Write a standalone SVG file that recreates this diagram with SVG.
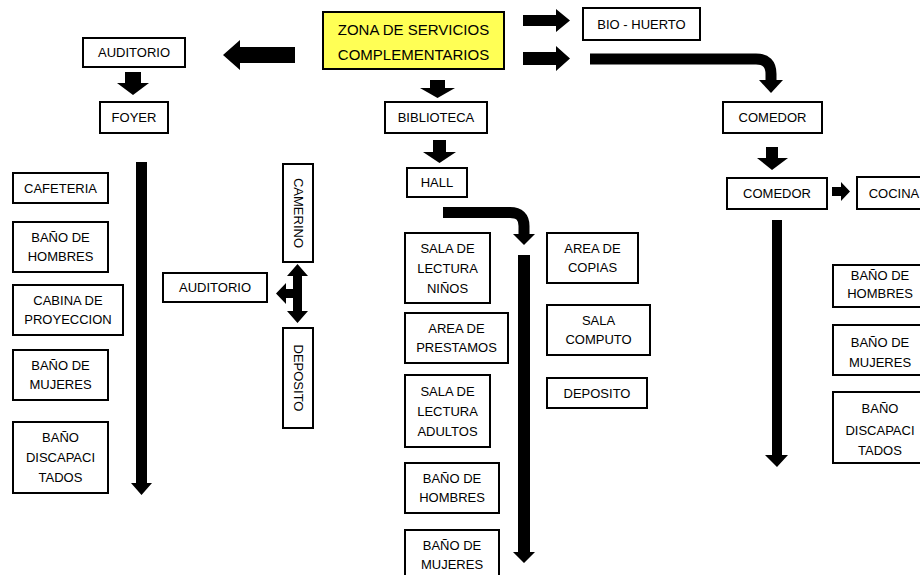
<svg xmlns="http://www.w3.org/2000/svg" width="920" height="575" viewBox="0 0 920 575">
<style>
rect.box{fill:#fff;stroke:#000;stroke-width:2}
rect.main{fill:#FFFF55;stroke:#000;stroke-width:2}
text{font-family:"Liberation Sans",Arial,sans-serif;font-size:13px;fill:#000;text-anchor:middle}
text.big{font-size:15px}
.arr{fill:#000}
.bend{fill:none;stroke:#000;stroke-width:11}
</style>
<rect width="920" height="575" fill="#fff"/>
<g id="connectors">
<polygon class="arr" points="295,47 240,47 240,40 223,55 240,70 240,63 295,63"/>
<polygon class="arr" points="523,15 556,15 556,9 570,20.5 556,32 556,26 523,26"/>
<polygon class="arr" points="523,52 556,52 556,46 570,58.5 556,71 556,65 523,65"/>
<path class="bend" d="M590,59 H756 Q771,59 771,74 V82"/>
<polygon class="arr" points="759,80 783,80 771,93"/>
<polygon class="arr" points="125,72 141,72 141,83 149,83 133,95 117,83 125,83"/>
<polygon class="arr" points="136,162 147,162 147,483 152,483 141.5,495 131,483 136,483"/>
<polygon class="arr" points="297.5,264 308,276 302,276 302,311 308,311 297.5,323 287,311 293,311 293,298 286,298 286,304 276,293.5 286,283 286,289 293,289 293,276 287,276"/>
<polygon class="arr" points="430,80 445,80 445,88 455,88 437.5,98 420,88 430,88"/>
<polygon class="arr" points="433,140 446,140 446,152 456,152 439.5,163 423,152 433,152"/>
<path class="bend" d="M443,212.5 H510 Q524,212.5 524,226 V236"/>
<polygon class="arr" points="513,234 535,234 524,245"/>
<polygon class="arr" points="518,255 530,255 530,552 535,552 524,563 513,552 518,552"/>
<polygon class="arr" points="766,147 778,147 778,158 788,158 772,170 757,158 766,158"/>
<polygon class="arr" points="832,187 841,187 841,182 850,191.5 841,201 841,196 832,196"/>
<polygon class="arr" points="772,220 782,220 782,455 788,455 777,467 765,455 772,455"/>
</g>
<g id="zona"><rect class="main" x="323" y="12" width="181" height="57"/><text class="big" x="413.5" y="35">ZONA DE SERVICIOS</text><text class="big" x="413.5" y="60">COMPLEMENTARIOS</text></g>
<g id="biohuerto"><rect class="box" x="583" y="8" width="117" height="32"/><text x="641.5" y="29">BIO - HUERTO</text></g>
<g id="auditorio1"><rect class="box" x="83" y="38" width="102" height="29"/><text x="134" y="57">AUDITORIO</text></g>
<g id="foyer"><rect class="box" x="100" y="102" width="68" height="31"/><text x="134" y="122">FOYER</text></g>
<g id="biblioteca"><rect class="box" x="385" y="102" width="102" height="31"/><text x="436" y="122">BIBLIOTECA</text></g>
<g id="comedor1"><rect class="box" x="723" y="102" width="99" height="31"/><text x="772.5" y="122">COMEDOR</text></g>
<g id="hall"><rect class="box" x="407" y="168" width="60" height="29"/><text x="437" y="187">HALL</text></g>
<g id="comedor2"><rect class="box" x="727" y="178" width="100" height="31"/><text x="777" y="198">COMEDOR</text></g>
<g id="cocina"><rect class="box" x="857" y="177" width="75" height="32"/><text x="894" y="198">COCINA</text></g>
<g id="cafeteria"><rect class="box" x="13" y="173" width="95" height="30"/><text x="60.5" y="193">CAFETERIA</text></g>
<g id="banohombres1"><rect class="box" x="13" y="222" width="95" height="50"/><text x="60.5" y="242">BAÑO DE</text><text x="60.5" y="261">HOMBRES</text></g>
<g id="cabina"><rect class="box" x="13" y="285" width="110" height="50"/><text x="68" y="305">CABINA DE</text><text x="68" y="324">PROYECCION</text></g>
<g id="banomujeres1"><rect class="box" x="13" y="350" width="95" height="50"/><text x="60.5" y="370">BAÑO DE</text><text x="60.5" y="389">MUJERES</text></g>
<g id="banodisc1"><rect class="box" x="13" y="422" width="95" height="71"/><text x="60.5" y="442">BAÑO</text><text x="60.5" y="462">DISCAPACI</text><text x="60.5" y="482">TADOS</text></g>
<g id="auditorio2"><rect class="box" x="163" y="273" width="104" height="29"/><text x="215" y="292">AUDITORIO</text></g>
<g id="camerino"><rect class="box" x="283" y="164" width="30" height="98"/><text transform="translate(298,213) rotate(90)" y="4.5">CAMERINO</text></g>
<g id="deposito1"><rect class="box" x="283" y="328" width="30" height="100"/><text transform="translate(298,378) rotate(90)" y="4.5">DEPOSITO</text></g>
<g id="lecturaninos"><rect class="box" x="405" y="233" width="85" height="70"/><text x="447.5" y="253">SALA DE</text><text x="447.5" y="273">LECTURA</text><text x="447.5" y="293">NIÑOS</text></g>
<g id="prestamos"><rect class="box" x="405" y="313" width="103" height="50"/><text x="456.5" y="333">AREA DE</text><text x="456.5" y="352">PRESTAMOS</text></g>
<g id="lecturaadultos"><rect class="box" x="405" y="375" width="85" height="72"/><text x="447.5" y="396">SALA DE</text><text x="447.5" y="416">LECTURA</text><text x="447.5" y="436">ADULTOS</text></g>
<g id="banohombres2"><rect class="box" x="405" y="463" width="94" height="50"/><text x="452" y="483">BAÑO DE</text><text x="452" y="502">HOMBRES</text></g>
<g id="banomujeres2"><rect class="box" x="405" y="530" width="94" height="50"/><text x="452" y="550">BAÑO DE</text><text x="452" y="569">MUJERES</text></g>
<g id="copias"><rect class="box" x="547" y="233" width="91" height="50"/><text x="592.5" y="253">AREA DE</text><text x="592.5" y="272">COPIAS</text></g>
<g id="computo"><rect class="box" x="547" y="305" width="103" height="50"/><text x="598.5" y="325">SALA</text><text x="598.5" y="344">COMPUTO</text></g>
<g id="deposito2"><rect class="box" x="547" y="378" width="100" height="30"/><text x="597" y="398">DEPOSITO</text></g>
<g id="banohombres3"><rect class="box" x="833" y="265" width="95" height="42"/><text x="880" y="280">BAÑO DE</text><text x="880" y="298">HOMBRES</text></g>
<g id="banomujeres3"><rect class="box" x="833" y="325" width="95" height="50"/><text x="880" y="347">BAÑO DE</text><text x="880" y="367">MUJERES</text></g>
<g id="banodisc3"><rect class="box" x="833" y="392" width="95" height="71"/><text x="880" y="413">BAÑO</text><text x="880" y="435">DISCAPACI</text><text x="880" y="455">TADOS</text></g>
</svg>
